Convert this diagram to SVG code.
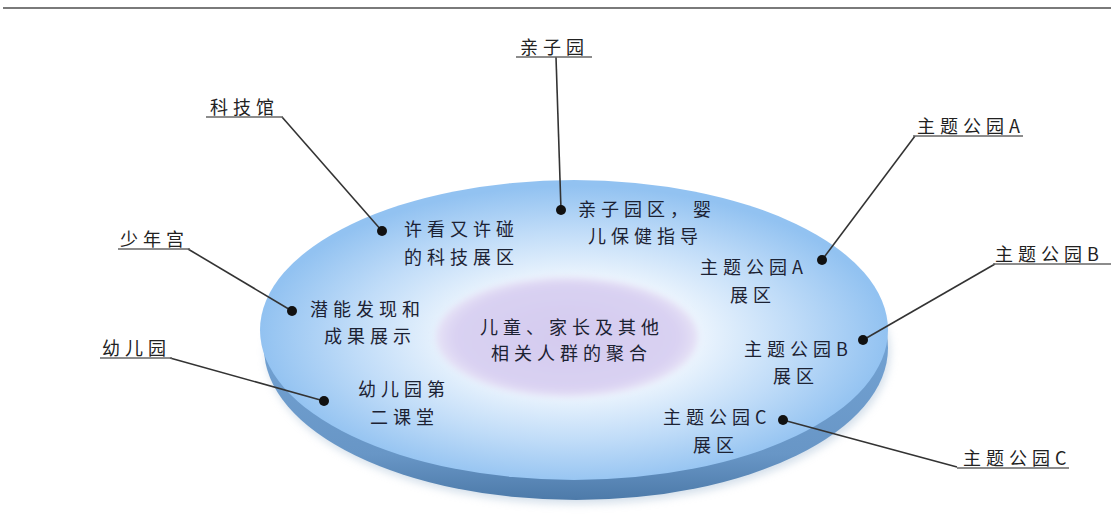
<svg xmlns="http://www.w3.org/2000/svg" width="1111" height="528" viewBox="0 0 1111 528">
<defs>
<radialGradient id="topFace" cx="0.5" cy="0.52" r="0.5">
<stop offset="0" stop-color="#ffffff"/>
<stop offset="0.35" stop-color="#f2f8fe"/>
<stop offset="0.7" stop-color="#c0dcf8"/>
<stop offset="1" stop-color="#92c2f1"/>
</radialGradient>
<linearGradient id="rim" x1="0" y1="0" x2="0" y2="1">
<stop offset="0" stop-color="#7fb0e2"/>
<stop offset="0.85" stop-color="#6896c6"/>
<stop offset="1" stop-color="#4d7aa9"/>
</linearGradient>
<radialGradient id="core" cx="0.5" cy="0.5" r="0.5">
<stop offset="0" stop-color="#d4cbef"/>
<stop offset="0.85" stop-color="#d9d1f2"/>
<stop offset="1" stop-color="#e6e2f6"/>
</radialGradient>
<filter id="soft" x="-10%" y="-10%" width="120%" height="120%">
<feGaussianBlur stdDeviation="3"/>
</filter>
<filter id="shadow" x="-10%" y="-10%" width="120%" height="130%">
<feGaussianBlur stdDeviation="4"/>
</filter>
<style>
.t{font-family:"Noto Sans CJK SC","Liberation Sans",sans-serif;font-size:18px;letter-spacing:5px;fill:#1c2233;}
.lbl{font-family:"Noto Sans CJK SC","Liberation Sans",sans-serif;font-size:18px;letter-spacing:5px;fill:#222;}
.ul{stroke:#666;stroke-width:1.6;fill:none;}
.conn{stroke:#333;stroke-width:1.6;fill:none;}
.dot{fill:#111;}
</style>
</defs>
<rect width="1111" height="528" fill="#ffffff"/>
<line x1="3" y1="8" x2="1111" y2="8" stroke="#7a7a7a" stroke-width="2"/>

<g id="disc">
<ellipse cx="578" cy="352" rx="312" ry="152" fill="#a8bfd6" opacity="0.5" filter="url(#shadow)"/>
<ellipse cx="576" cy="348" rx="312" ry="152" fill="url(#rim)"/>
<ellipse cx="574" cy="330" rx="314" ry="150" fill="url(#topFace)"/>
</g>

<g id="core-node">
<ellipse cx="567" cy="337" rx="131" ry="60" fill="url(#core)" filter="url(#soft)"/>
<text class="t" x="480" y="334">儿童、家长及其他</text>
<text class="t" x="491" y="360">相关人群的聚合</text>
</g>

<g id="connectors">
<line class="conn" x1="556" y1="57" x2="561" y2="210"/>
<line class="conn" x1="282" y1="117" x2="382" y2="231"/>
<line class="conn" x1="915" y1="136" x2="822" y2="260"/>
<line class="conn" x1="995" y1="264" x2="863" y2="340"/>
<line class="conn" x1="783" y1="420" x2="957" y2="467"/>
<line class="conn" x1="188" y1="249" x2="292" y2="311"/>
<line class="conn" x1="170" y1="358" x2="324" y2="401"/>
</g>

<g id="node-qinziyuan">
<text class="lbl" x="520" y="54">亲子园</text>
<line class="ul" x1="516" y1="57" x2="592" y2="57"/>
<circle class="dot" cx="561" cy="210" r="5"/>
<text class="t" x="578" y="216">亲子园区，婴</text>
<text class="t" x="588" y="243">儿保健指导</text>
</g>

<g id="node-kejiguan">
<text class="lbl" x="210" y="114">科技馆</text>
<line class="ul" x1="206" y1="117" x2="283" y2="117"/>
<circle class="dot" cx="382" cy="231" r="5"/>
<text class="t" x="404" y="236">许看又许碰</text>
<text class="t" x="404" y="264">的科技展区</text>
</g>

<g id="node-parkA">
<text class="lbl" x="917" y="133">主题公园A</text>
<line class="ul" x1="913" y1="136" x2="1023" y2="136"/>
<circle class="dot" cx="822" cy="260" r="5"/>
<text class="t" x="700" y="274">主题公园A</text>
<text class="t" x="730" y="302">展区</text>
</g>

<g id="node-parkB">
<text class="lbl" x="995" y="261">主题公园B</text>
<line class="ul" x1="993" y1="264" x2="1111" y2="264"/>
<circle class="dot" cx="863" cy="340" r="5"/>
<text class="t" x="744" y="356">主题公园B</text>
<text class="t" x="773" y="383">展区</text>
</g>

<g id="node-parkC">
<text class="lbl" x="963" y="465">主题公园C</text>
<line class="ul" x1="957" y1="468" x2="1069" y2="468"/>
<circle class="dot" cx="783" cy="420" r="5"/>
<text class="t" x="663" y="424">主题公园C</text>
<text class="t" x="693" y="452">展区</text>
</g>

<g id="node-shaoniangong">
<text class="lbl" x="120" y="246">少年宫</text>
<line class="ul" x1="118" y1="249" x2="190" y2="249"/>
<circle class="dot" cx="292" cy="311" r="5"/>
<text class="t" x="310" y="316">潜能发现和</text>
<text class="t" x="324" y="343">成果展示</text>
</g>

<g id="node-youeryuan">
<text class="lbl" x="102" y="355">幼儿园</text>
<line class="ul" x1="100" y1="358" x2="172" y2="358"/>
<circle class="dot" cx="324" cy="401" r="5"/>
<text class="t" x="358" y="396">幼儿园第</text>
<text class="t" x="370" y="424">二课堂</text>
</g>
</svg>
